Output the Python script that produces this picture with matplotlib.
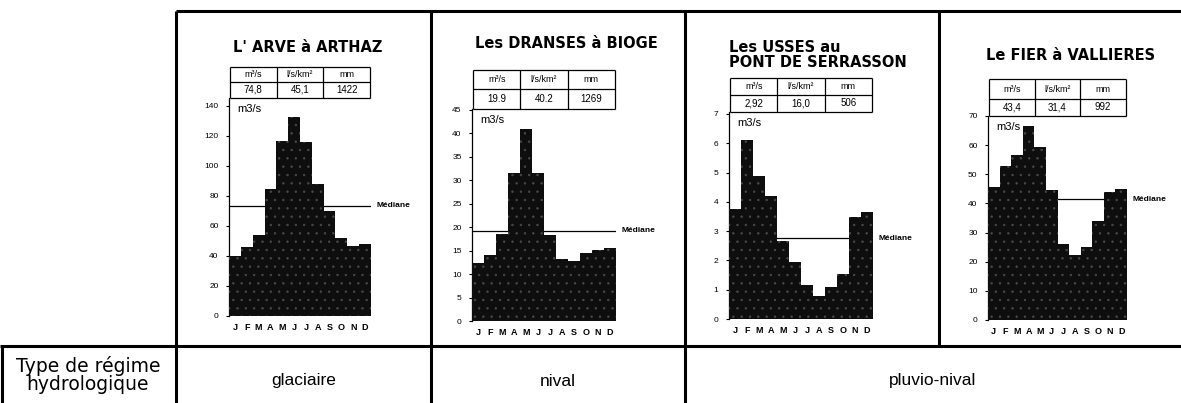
import numpy as np
import matplotlib.pyplot as plt
from matplotlib.lines import Line2D

plt.rcParams['font.family'] = ['Liberation Sans', 'DejaVu Sans']
plt.rcParams['hatch.linewidth'] = 0.5

W, H = 1181, 403

# --- donnees ---
months = ['J', 'F', 'M', 'A', 'M', 'J', 'J', 'A', 'S', 'O', 'N', 'D']
titles = ["L' ARVE à ARTHAZ", "Les DRANSES à BIOGE",
          "Les USSES au\nPONT DE SERRASSON", "Le FIER à VALLIERES"]
arve = [40, 46, 54, 85, 117, 133, 116, 88, 70, 52, 47, 48]
dranses = [12.3, 14, 18.5, 31.5, 41, 31.5, 18.3, 13.3, 12.9, 14.4, 15.1, 15.6]
usses = [3.75, 6.1, 4.9, 4.2, 2.65, 1.95, 1.15, 0.77, 1.1, 1.55, 3.5, 3.65]
fier = [45.7, 53, 56.5, 66.5, 59.5, 44.5, 26.2, 22.3, 25, 34, 43.8, 45]
medians = [73.5, 19.2, 2.75, 41.5]
yticks = [list(range(0, 141, 20)), list(range(0, 46, 5)),
          list(range(0, 8)), list(range(0, 71, 10))]
table_head = ['m³/s', 'l/s/km²', 'mm']
table_vals = [['74,8', '45,1', '1422'], ['19.9', '40.2', '1269'],
              ['2,92', '16,0', '506'], ['43,4', '31,4', '992']]
row_label = 'Type de régime\nhydrologique'
regimes = ['glaciaire', 'nival', 'pluvio-nival']

series = [arve, dranses, usses, fier]

# --- mise en page (pixels) ---
layout = [
    dict(left=229, right=371, y0=316, ytop=106, tab=(67, 82, 98), tx=308, ty=47, ha='center'),
    dict(left=472, right=616, y0=321, ytop=110, tab=(70, 89, 109), tx=566, ty=43, ha='center'),
    dict(left=729, right=873, y0=319, ytop=114, tab=(78, 95, 112), tx=729, ty=55, ha='left'),
    dict(left=988, right=1127, y0=320, ytop=115, tab=(79, 99, 116), tx=1071, ty=55, ha='center'),
]


def fx(x):
    return x / W


def fy(y):
    return 1 - y / H


fig = plt.figure(figsize=(W / 100, H / 100), dpi=100)


def line(x0, x1, y0, y1, lw=2.2):
    fig.add_artist(Line2D([fx(x0), fx(x1)], [fy(y0), fy(y1)], color='black',
                          lw=lw, solid_capstyle='butt'))


# cadre du tableau
line(176, 1181, 11, 11)
line(176, 176, 11, 403)
line(431, 431, 11, 403)
line(685, 685, 11, 403)
line(939, 939, 11, 346)
line(0, 1181, 346, 346)
line(2, 2, 346, 403)

for vals, med, ticks, title, tv, L in zip(series, medians, yticks, titles, table_vals, layout):
    top, mid, bot = L['tab']
    ymax = ticks[-1]
    ax = fig.add_axes([fx(L['left']), fy(L['y0']), (L['right'] - L['left']) / W,
                       (L['y0'] - bot) / H])
    ax.set_xlim(0, 12)
    ax.set_ylim(0, ymax * (L['y0'] - bot) / (L['y0'] - L['ytop']))
    ax.bar(np.arange(12), vals, width=1, align='edge', color='#0e0e0e',
           edgecolor='#4a4a4a', hatch='..', lw=0, zorder=3)
    ax.plot([0, 12], [med, med], color='black', lw=0.9, zorder=2)
    ax.annotate('Médiane', xy=(12, med), xytext=(4, 0), textcoords='offset points',
                va='center', ha='left', fontsize=6, fontweight='bold',
                annotation_clip=False)
    for s in ['top', 'right', 'bottom']:
        ax.spines[s].set_visible(False)
    ax.spines['left'].set_linewidth(0.9)
    ax.set_yticks(ticks)
    ax.tick_params(axis='y', length=2.5, width=0.8, labelsize=6, pad=5)
    ax.set_xticks(np.arange(12) + 0.5, months)
    ax.tick_params(axis='x', length=0, labelsize=6.5, pad=5)
    for lab in ax.get_xticklabels():
        lab.set_fontweight('bold')
    ax.patch.set_alpha(0)

    # petit tableau au-dessus
    x0, x1 = L['left'] + 1, L['right'] - 1
    cw = (x1 - x0) / 3
    lw = 0.9
    line(x0, x1, top, top, lw)
    line(x0, x1, mid, mid, lw)
    line(x0, x1, bot, bot, lw)
    for k in range(4):
        line(x0 + k * cw, x0 + k * cw, top, bot, lw)
    for k in range(3):
        cx = x0 + (k + 0.5) * cw
        fig.text(fx(cx), fy((top + mid) / 2), table_head[k], ha='center', va='center', fontsize=6.5)
        fig.text(fx(cx), fy((mid + bot) / 2), tv[k], ha='center', va='center', fontsize=7)

    fig.text(fx(L['left'] + 8), fy(bot + 11), 'm3/s', ha='left', va='center', fontsize=8)
    fig.text(fx(L['tx']), fy(L['ty']), title, ha=L['ha'], va='center', fontsize=10.5,
             fontweight='bold', linespacing=1.0, family='DejaVu Sans')

# ligne du bas
fig.text(fx(88), fy(375), row_label, ha='center', va='center', fontsize=13.5,
         linespacing=0.92, family='DejaVu Sans')
for name, cx in zip(regimes, [303.5, 558, 933]):
    fig.text(fx(cx), fy(381), name, ha='center', va='center', fontsize=12.5)

fig.savefig('out.png', dpi=100)
